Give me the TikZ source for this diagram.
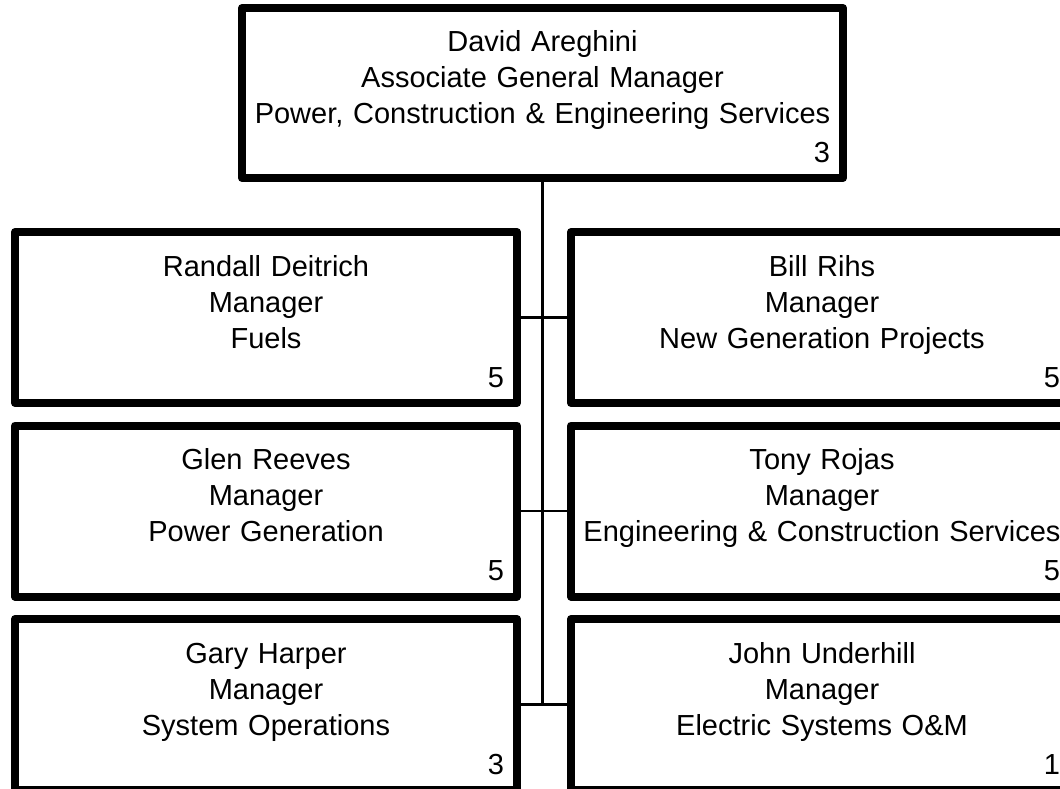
\documentclass[tikz,border=0pt]{standalone}
\usepackage{fontspec}
\setmainfont{Liberation Sans}
\usepackage{tikz}
\usetikzlibrary{positioning}

\begin{document}
\begin{tikzpicture}[x=1pt,y=-1pt,
    font=\fontsize{29}{36}\selectfont,
    box/.style={draw,line width=8pt,line join=round,align=center,
      inner xsep=8pt,inner ysep=0pt,text width=486pt,
      minimum width=502pt,minimum height=171pt,
      execute at begin node=\rule{0pt}{29pt}},
    head/.style={box,text width=585pt,minimum width=601pt,minimum height=170pt},
    link/.style={line width=2.5pt},
    node distance=193.5pt]

  \clip (0,0) rectangle (1060,789);

  \node[head] (areghini) at (542.5,93) {David Areghini\\Associate General Manager\\
    Power, Construction \& Engineering Services\\[3pt]\makebox[\linewidth][r]{3\hspace{5pt}}};

  \node[box] (deitrich) at (266,317.5) {Randall Deitrich\\Manager\\Fuels\\[3pt]\makebox[\linewidth][r]{5\hspace{5pt}}};
  \node[box] (reeves) [below of=deitrich] {Glen Reeves\\Manager\\Power Generation\\[3pt]\makebox[\linewidth][r]{5\hspace{5pt}}};
  \node[box] (harper) [below of=reeves] {Gary Harper\\Manager\\System Operations\\[3pt]\makebox[\linewidth][r]{3\hspace{5pt}}};

  \node[box] (rihs) [right of=deitrich, node distance=556pt] {Bill Rihs\\Manager\\New Generation Projects\\[3pt]\makebox[\linewidth][r]{5\hspace{5pt}}};
  \node[box] (rojas) [below of=rihs] {Tony Rojas\\Manager\\Engineering \& Construction Services\\[3pt]\makebox[\linewidth][r]{5\hspace{5pt}}};
  \node[box] (underhill) [below of=rojas] {John Underhill\\Manager\\Electric Systems O\&M\\[3pt]\makebox[\linewidth][r]{1\hspace{5pt}}};

  \draw[link] (areghini.south) -- (areghini.south |- harper.east);
  \draw[link] (deitrich.east) -- (rihs.west);
  \draw[link] (reeves.east) -- (rojas.west);
  \draw[link] (harper.east) -- (underhill.west);

\end{tikzpicture}
\end{document}
